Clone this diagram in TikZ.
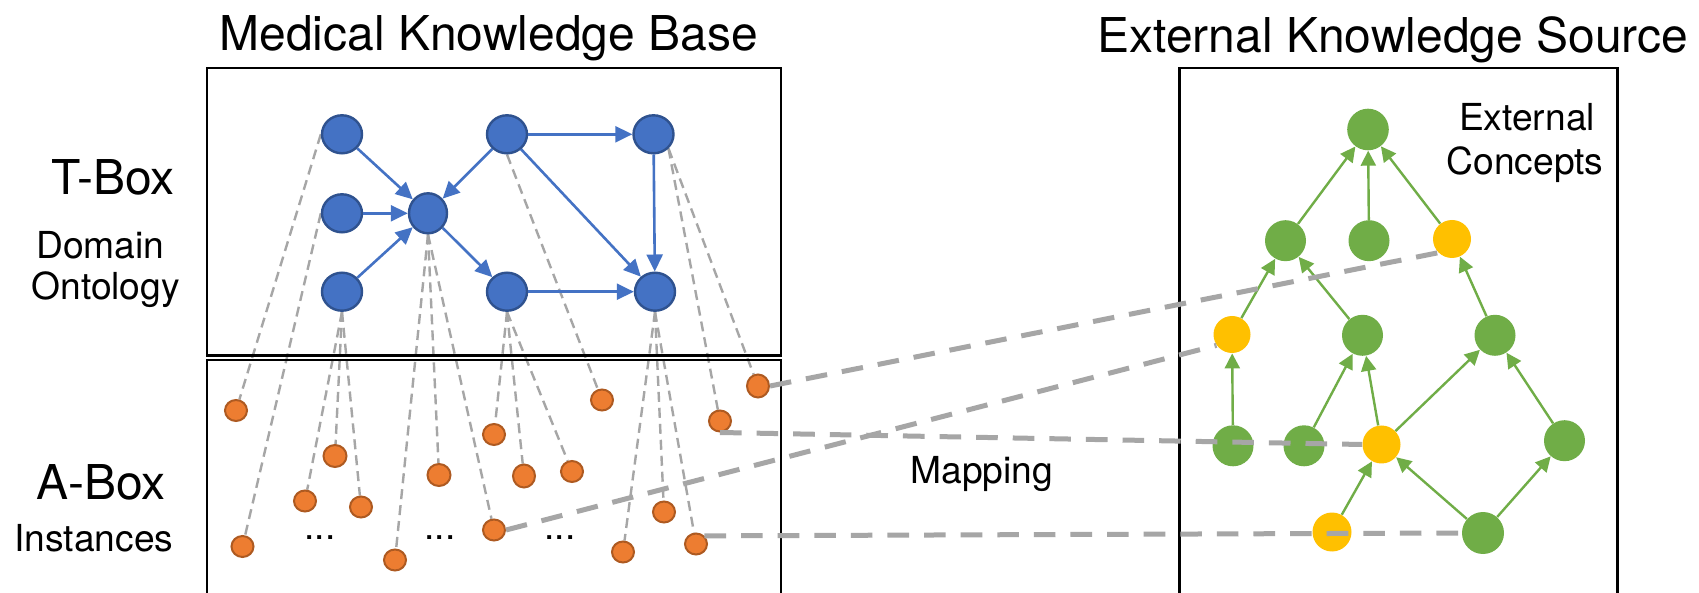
\documentclass[tikz,border=0pt]{standalone}
\usepackage{fontspec}
\setmainfont{TeX Gyre Heros}
\usetikzlibrary{arrows.meta,shapes.geometric,backgrounds}
\definecolor{tblue}{HTML}{4472C4}
\definecolor{tbluedark}{HTML}{2F528F}
\definecolor{torange}{HTML}{ED7D31}
\definecolor{torangedark}{HTML}{AE5A21}
\definecolor{tgreen}{HTML}{70AD47}
\definecolor{tyellow}{HTML}{FFC000}
\definecolor{tgray}{HTML}{A6A6A6}
\begin{document}
\begin{tikzpicture}[x=0.5pt,y=-0.5pt,
  bnode/.style={ellipse, fill=tblue, draw=tbluedark, line width=1.2pt, minimum width=20pt, minimum height=19pt, inner sep=0pt},
  onode/.style={ellipse, fill=torange, draw=torangedark, line width=1pt, minimum width=11pt, minimum height=10.5pt, inner sep=0pt},
  gnode/.style={circle, fill=tgreen, minimum size=20.5pt, inner sep=0pt},
  ynode/.style={circle, fill=tyellow, minimum size=19pt, inner sep=0pt},
  barrow/.style={draw=tblue, line width=1.3pt, -{Triangle[length=8.5pt,width=8pt]}},
  garrow/.style={draw=tgreen, line width=1.2pt, -{Triangle[length=7.5pt,width=7.5pt]}},
  thindash/.style={draw=tgray, line width=1.2pt, dash pattern=on 5pt off 3pt},
  mapline/.style={draw=tgray, line width=2.5pt, dash pattern=on 10.8pt off 7.5pt},
  boxline/.style={draw=black, line width=1.4pt},
  bigtext/.style={font=\fontsize{24}{28}\selectfont, inner sep=0pt, anchor=base west},
  smalltext/.style={font=\fontsize{18.6}{22}\selectfont, inner sep=0pt, anchor=base west},
]
\clip (0,0) rectangle (1699,593);

% boxes
\draw[boxline] (207,68) rectangle (781,355.5);
\draw[boxline] (207,360) rectangle (781,620);
\draw[boxline, line width=1.1pt] (1179.5,68) rectangle (1617.5,620);

% titles and labels
\node[bigtext] (t1) at (219,51) {Medical Knowledge Base};
\node[bigtext] (t2) at (1097,52.5) {External Knowledge Source};
\node[bigtext] (tbox) at (51,195) {T-Box};
\node[smalltext] (dom) at (36,258.5) {Domain};
\node[smalltext] (ont) at (31,300) {Ontology};
\node[bigtext] (abox) at (36,499) {A-Box};
\node[smalltext] (inst) at (14,552) {Instances};
\node[smalltext, anchor=base] (ext1) at (1527,130.3) {External};
\node[smalltext, anchor=base] (ext2) at (1525,175) {Concepts};
\node[smalltext] (map) at (910,483.3) {Mapping};
\node[smalltext, anchor=base] (dots1) at (320,539) {...};
\node[smalltext, anchor=base] (dots2) at (440,539) {...};
\node[smalltext, anchor=base] (dots3) at (560,539) {...};

% blue T-Box nodes
\node[bnode] (A) at (342,134.3) {};
\node[bnode] (B) at (507,134.3) {};
\node[bnode] (C) at (653.5,134.3) {};
\node[bnode] (D) at (342,213.3) {};
\node[bnode, minimum width=19pt, minimum height=20pt] (E) at (428,213.3) {};
\node[bnode] (F) at (342,291.7) {};
\node[bnode] (G) at (507,291.7) {};
\node[bnode] (H) at (655,291.7) {};

% orange A-Box nodes
\node[onode] (o1) at (236,410.5) {};
\node[onode] (o2) at (242.5,546.5) {};
\node[onode, minimum width=11.5pt, minimum height=11pt] (o3) at (335,456) {};
\node[onode] (o4) at (305,501) {};
\node[onode] (o5) at (361,507) {};
\node[onode] (o6) at (395,560) {};
\node[onode, minimum width=11.5pt, minimum height=11pt] (o7) at (439,475) {};
\node[onode] (o8) at (494,434.5) {};
\node[onode, minimum height=11.5pt] (o9) at (524,476) {};
\node[onode] (o10) at (572,471.5) {};
\node[onode] (o11) at (494,530) {};
\node[onode] (o12) at (602,400) {};
\node[onode] (o13) at (623,552) {};
\node[onode] (o14) at (664,512) {};
\node[onode] (o15) at (696,544) {};
\node[onode] (o16) at (720,421) {};
\node[onode, minimum height=11.5pt] (o17) at (758,386) {};

% thin dashed instance links
\begin{scope}[on background layer]
\fill[white] (0,0) rectangle (1699,593);
\draw[thindash] (A.west) -- (o1);
\draw[thindash] (D.west) -- (o2);
\draw[thindash] (F.south) -- (o3);
\draw[thindash] (F.south) -- (o4);
\draw[thindash] (F.south) -- (o5);
\draw[thindash] (E.south) -- (o6);
\draw[thindash] (E.south) -- (o7);
\draw[thindash] (E.south) -- (o11);
\draw[thindash] (G.south) -- (o8);
\draw[thindash] (G.south) -- (o9);
\draw[thindash] (G.south) -- (o10);
\draw[thindash] (B.south) -- (o12);
\draw[thindash] (H.south) -- (o13);
\draw[thindash] (H.south) -- (o14);
\draw[thindash] (H.south) -- (o15);
\draw[thindash] (C.south east) -- (o16);
\draw[thindash] (C.south east) -- (o17);
\end{scope}

% blue arrows
\draw[barrow] (A) -- (E);
\draw[barrow] (D) -- (E);
\draw[barrow] (F) -- (E);
\draw[barrow] (B) -- (E);
\draw[barrow] (E) -- (G);
\draw[barrow] (B) -- (C);
\draw[barrow] (B) -- (H);
\draw[barrow] (C) -- (H);
\draw[barrow] (G) -- (H);

% external graph nodes
\node[gnode, minimum size=20.8pt] (T) at (1368,129.5) {};
\node[gnode] (g1) at (1285.5,240.7) {};
\node[gnode] (g2) at (1369,240.7) {};
\node[ynode] (y1) at (1452,239) {};
\node[ynode, minimum size=18.5pt] (y2) at (1232,334.5) {};
\node[gnode] (g3) at (1362.5,335.3) {};
\node[gnode] (g4) at (1495,335.3) {};
\node[gnode] (g5) at (1233,445.8) {};
\node[gnode] (g6) at (1304,445.8) {};
\node[ynode] (y3) at (1381.5,444.5) {};
\node[gnode] (g7) at (1564.5,440.7) {};
\node[ynode, minimum size=19.5pt] (y4) at (1332,532) {};
\node[gnode, minimum size=21pt] (g8) at (1483,533) {};

% green arrows
\draw[garrow] (g1) -- (T);
\draw[garrow] (g2) -- (T);
\draw[garrow] (y1) -- (T);
\draw[garrow] (y2) -- (g1);
\draw[garrow] (g3) -- (g1);
\draw[garrow] (g4) -- (y1);
\draw[garrow] (g5) -- (y2);
\draw[garrow] (g6) -- (g3);
\draw[garrow] (y3) -- (g3);
\draw[garrow] (y3) -- (g4);
\draw[garrow] (g7) -- (g4);
\draw[garrow] (y4) -- (y3);
\draw[garrow] (g8) -- (y3);
\draw[garrow] (g8) -- (g7);

% mapping lines
\draw[mapline] (o17.east) -- (y1.225);
\draw[mapline] (o11.east) -- (y2.215);
\draw[mapline] (o16.south) -- (y3.west);
\draw[mapline] (o15.north east) -- (g8.west);
\end{tikzpicture}
\end{document}
